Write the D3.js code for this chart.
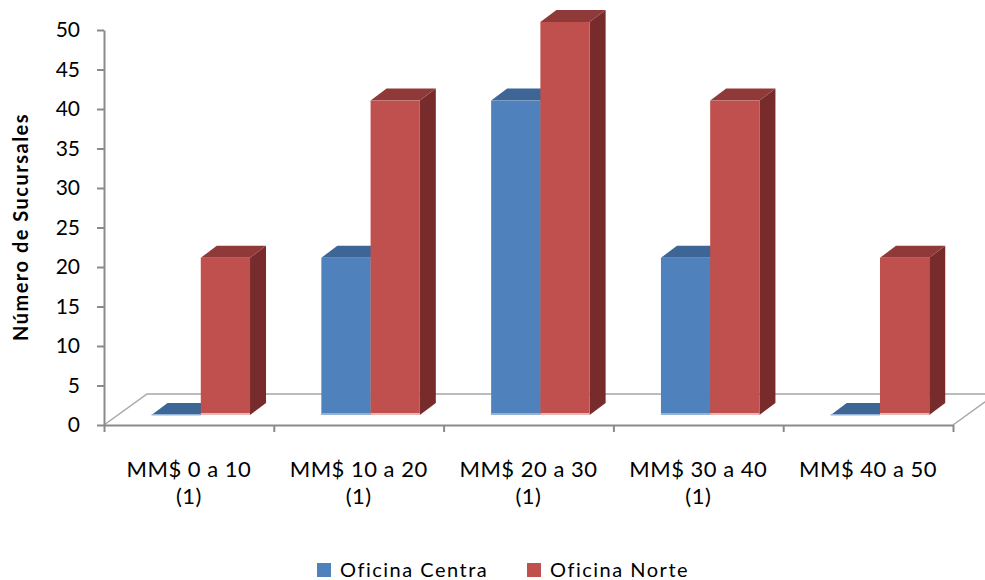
<!DOCTYPE html>
<html>
<head>
<meta charset="utf-8">
<script src="https://cdn.jsdelivr.net/npm/d3@7"></script>
<style>
  body { margin: 0; background: #fff; }
  text { font-family: Lato, "Open Sans", sans-serif; fill: #000; }
</style>
</head>
<body>
<svg id="chart" width="985" height="580"></svg>
<script>
const categories = ["MM$ 0 a 10", "MM$ 10 a 20", "MM$ 20 a 30", "MM$ 30 a 40", "MM$ 40 a 50"];
const subLabels = ["(1)", "(1)", "(1)", "(1)", ""];
const seriesNames = ["Oficina Centra", "Oficina Norte"];
const centra = [0, 20, 40, 20, 0];
const norte = [20, 40, 50, 40, 20];
const yTicks = [0, 5, 10, 15, 20, 25, 30, 35, 40, 45, 50];

const colors = [
  { front: "#4f81bd", top: "#3d6595", side: "#2f4f76", edge: "#95b3d7" },
  { front: "#c0504d", top: "#8f3a38", side: "#772c2b", edge: "#e6b9b8" },
];

const svg = d3.select("#chart");
const axisColor = "#8a8a8a";

const plotL = 104, plotR = 953, plotB = 425, plotT = 30;
const depth = { dx: 43, dy: -31 };
const barDepth = { dx: 16, dy: -12 };

const y = d3.scaleLinear().domain([0, 50]).range([plotB, plotT]);
// bars sit part way into the floor, so their own baseline is higher
const yBar = d3.scaleLinear().domain([0, 50]).range([415, 22]);
const x = d3.scaleBand().domain(categories).range([plotL, plotR]);
const xEdge = d3.scaleLinear().domain([0, categories.length]).range([plotL, plotR]);

// floor outline
const floor = svg.append("g").attr("stroke", "#a6a6a6").attr("stroke-width", 1.5).attr("fill", "none");
floor.append("path").attr("d", d3.line()([
  [plotL, plotB], [plotL + depth.dx, plotB + depth.dy],
  [plotR + depth.dx, plotB + depth.dy], [plotR, plotB],
]));

// bars
const bw = x.bandwidth();
const barW = bw * 0.29;
const groupOff = bw * 0.28;

function drawBar(g, x0, v, c) {
  const yt = yBar(v), yb = yBar(0);
  const { dx, dy } = barDepth;
  g.append("path")
    .attr("d", d3.line()([[x0 + barW, yt], [x0 + barW + dx, yt + dy], [x0 + barW + dx, yb + dy], [x0 + barW, yb]]))
    .attr("fill", c.side);
  g.append("path")
    .attr("d", d3.line()([[x0, yt], [x0 + dx, yt + dy], [x0 + barW + dx, yt + dy], [x0 + barW, yt]]))
    .attr("fill", c.top);
  if (v > 0) {
    g.append("rect").attr("x", x0).attr("y", yt).attr("width", barW).attr("height", yb - yt).attr("fill", c.front);
    g.append("rect").attr("x", x0).attr("y", yb - 2).attr("width", barW).attr("height", 2).attr("fill", c.edge);
  } else {
    g.append("rect").attr("x", x0).attr("y", yb - 1).attr("width", barW).attr("height", 1.5).attr("fill", c.edge);
  }
}

const bars = svg.append("g");
categories.forEach((cat, i) => {
  const x0 = x(cat) + groupOff;
  drawBar(bars, x0, centra[i], colors[0]);
  drawBar(bars, x0 + barW, norte[i], colors[1]);
});

// y axis
const yAxis = svg.append("g")
  .attr("transform", `translate(${plotL},0)`)
  .call(d3.axisLeft(y).tickValues(yTicks).tickSize(7).tickPadding(17).tickSizeOuter(0));
yAxis.select(".domain").attr("stroke", axisColor).attr("stroke-width", 2);
yAxis.selectAll(".tick line").attr("stroke", axisColor).attr("stroke-width", 2);
yAxis.selectAll(".tick text").attr("font-size", 21).attr("font-family", "Lato, sans-serif").attr("fill", "#000");

// x axis
const xAxis = svg.append("g")
  .attr("transform", `translate(0,${plotB})`)
  .call(d3.axisBottom(xEdge).tickValues(d3.range(categories.length + 1)).tickFormat("").tickSize(7).tickSizeOuter(0));
xAxis.select(".domain").attr("stroke", axisColor).attr("stroke-width", 2);
xAxis.selectAll(".tick line").attr("stroke", axisColor).attr("stroke-width", 2);

const labels = svg.append("g").attr("text-anchor", "middle").attr("font-size", 22).attr("letter-spacing", 0.5);
categories.forEach((cat, i) => {
  const cx = x(cat) + bw / 2;
  labels.append("text").attr("x", cx).attr("y", 477).text(cat);
  if (subLabels[i]) labels.append("text").attr("x", cx).attr("y", 504).text(subLabels[i]);
});

// y title
svg.append("text")
  .attr("transform", `translate(28,227) rotate(-90)`)
  .attr("text-anchor", "middle")
  .attr("font-size", 20)
  .attr("font-weight", "bold")
  .attr("letter-spacing", 1.5)
  .text("Número de Sucursales");

// legend
const legendX = [317, 527];
const legend = svg.append("g");
seriesNames.forEach((name, i) => {
  legend.append("rect").attr("x", legendX[i]).attr("y", 563).attr("width", 14).attr("height", 14).attr("fill", colors[i].front);
  legend.append("text").attr("x", legendX[i] + 23).attr("y", 577).attr("font-size", 20)
    .attr("letter-spacing", 1.5).text(name);
});
</script>
</body>
</html>
